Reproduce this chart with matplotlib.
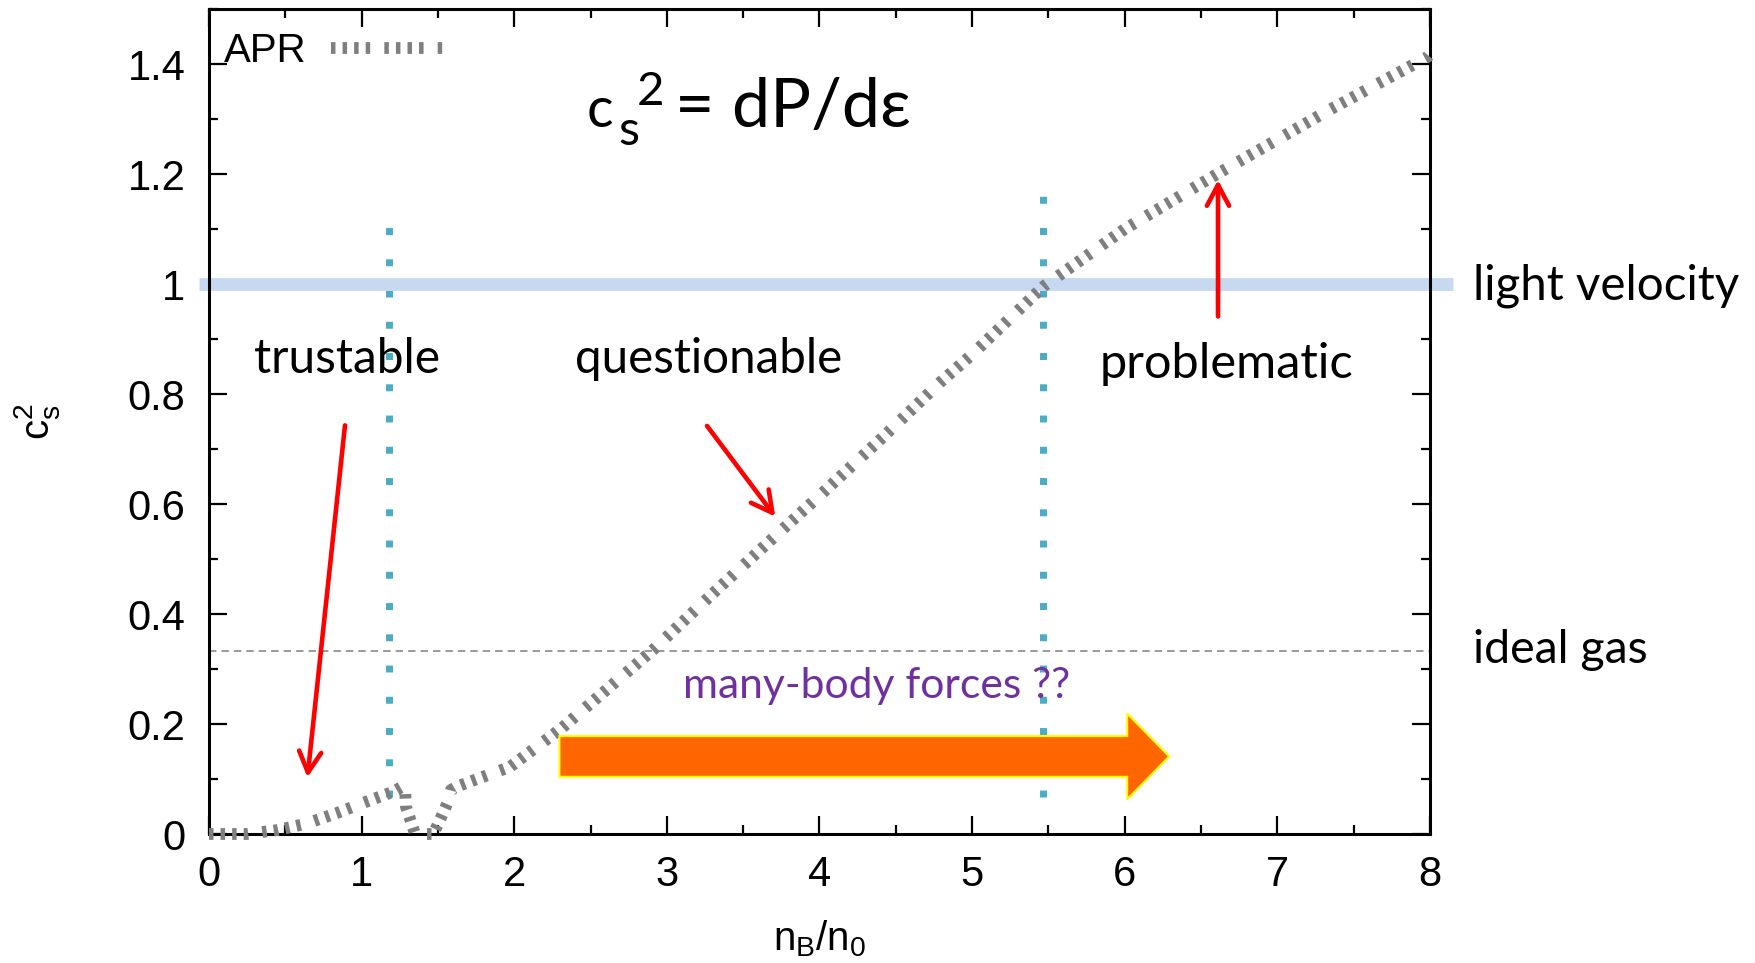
import matplotlib
matplotlib.use("Agg")
import matplotlib.pyplot as plt
from matplotlib.patches import FancyArrow
from matplotlib.ticker import MultipleLocator

# APR speed of sound squared
nb = [0.0, 0.247, 0.444, 0.640, 0.837, 1.033, 1.208, 1.284, 1.29, 1.35, 1.47,
      1.52, 1.56, 1.585, 1.623, 1.776, 1.972, 2.309, 2.910, 3.30, 3.715,
      4.0, 4.417, 4.794, 5.0, 5.465, 6.0, 6.611, 7.337, 7.985, 8.0]
cs2 = [0.0, 0.0, 0.007, 0.019, 0.038, 0.059, 0.077, 0.089, 0.05, 0.0, 0.0,
       0.03, 0.055, 0.08, 0.086, 0.102, 0.122, 0.192, 0.335, 0.437, 0.543,
       0.615, 0.722, 0.822, 0.872, 0.995, 1.10, 1.201, 1.316, 1.413, 1.418]

xticks = [0, 1, 2, 3, 4, 5, 6, 7, 8]
xticklabels = ["0", "1", "2", "3", "4", "5", "6", "7", "8"]
yticks = [0, 0.2, 0.4, 0.6, 0.8, 1.0, 1.2, 1.4]
yticklabels = ["0", "0.2", "0.4", "0.6", "0.8", "1", "1.2", "1.4"]

ideal_gas = 1.0 / 3.0
light_velocity = 1.0
# region borders (cyan dotted lines): x, top
border_x = [1.177, 5.465]
border_top = [1.129, 1.173]
border_bottom = 0.067

W, H = 1756, 963
plt.rcParams["font.family"] = ["Liberation Sans", "DejaVu Sans"]
ANN = ["Lato", "DejaVu Sans"]

fig = plt.figure(figsize=(W / 100, H / 100), dpi=100)
ax = fig.add_axes([209 / W, 1 - 834 / H, 1221 / W, 825 / H])

dash = (0, (0.38, 0.6, 0.38, 0.6, 0.38, 0.6, 0.38, 1.2))

# cyan borders, light velocity band, ideal gas line
for x, top in zip(border_x, border_top):
    ax.plot([x, x], [border_bottom, top], color="#4bacc6", lw=5,
            linestyle=(0, (1, 3.5)), zorder=2)
ax.plot([0, 8], [ideal_gas, ideal_gas], color="#9a9a9a", lw=1.4,
        linestyle=(0, (3.8, 2.6)), zorder=2.2)
ax.plot([-0.066, 8.151], [light_velocity, light_velocity], color="#c6d9f0",
        lw=9.2, solid_capstyle="butt", clip_on=False, zorder=2.5)

ax.plot(nb, cs2, color="#7f7f7f", lw=8.5, linestyle=dash, label="APR",
        clip_on=False, zorder=3)

# red arrows
arrows = [((0.891, 0.743), (0.645, 0.103)),
          ((3.263, 0.742), (3.71, 0.577)),
          ((6.611, 0.941), (6.611, 1.189))]
for tail, tip in arrows:
    ax.annotate("", xy=tip, xytext=tail,
                arrowprops=dict(arrowstyle="->,head_length=15,head_width=8",
                                mutation_scale=1, lw=3.3, color="red",
                                shrinkA=0, shrinkB=0), zorder=5)

# orange block arrow
ax.add_patch(FancyArrow(2.296, 0.141, 3.995, 0, width=0.074, head_width=0.156,
                        head_length=0.275, length_includes_head=True,
                        fc="#ff6600", ec="#ffff00", lw=1.5, zorder=6))

ax.set_xlim(0, 8)
ax.set_ylim(0, 1.5)
ax.set_xticks(xticks)
ax.set_xticklabels(xticklabels)
ax.set_yticks(yticks)
ax.set_yticklabels(yticklabels)
ax.xaxis.set_minor_locator(MultipleLocator(0.5))
ax.yaxis.set_minor_locator(MultipleLocator(0.1))
ax.tick_params(which="both", direction="in", top=True, right=True,
               width=1.6, labelsize=30)
ax.tick_params(which="major", length=13)
ax.tick_params(which="minor", length=6.5)
ax.tick_params(axis="x", pad=15)
ax.tick_params(axis="y", pad=17)
for s in ax.spines.values():
    s.set_linewidth(2.2)

ax.set_xlabel(r"n$_\mathregular{B}$/n$_\mathregular{0}$", fontsize=29)
ax.xaxis.set_label_coords(0.5, -0.102)
ax.set_ylabel(r"$\mathregular{c_s^2}$", fontsize=29)
ax.yaxis.set_label_coords(-0.12, 0.5)

ax.legend(loc="upper left", bbox_to_anchor=(15 / 1221, 1 - 23 / 825),
          frameon=False, markerfirst=False, fontsize=29, handlelength=2.83,
          handletextpad=0.6, borderaxespad=0.0, borderpad=0.0)

# annotation texts (x, baseline y, text, target width px)
fig.canvas.draw()
r = fig.canvas.get_renderer()


def fit(t, width):
    t.set_fontsize(t.get_fontsize() * width / t.get_window_extent(r).width)


labels = [(0.904, 0.838, "trustable", 186, "center", "black"),
          (3.273, 0.838, "questionable", 267, "center", "black"),
          (6.665, 0.829, "problematic", 254, "center", "black"),
          (8.283, 0.971, "light velocity", 266, "left", "black"),
          (8.283, 0.311, "ideal gas", 175, "left", "black"),
          (4.371, 0.247, "many-body forces ??", 388, "center", "#7030a0")]
for x, y, s, w, ha, c in labels:
    t = ax.text(x, y, s, ha=ha, va="baseline", family=ANN, fontsize=30,
                color=c, zorder=7)
    fit(t, w)

# formula c_s^2 = dP/dε
fig.text(587 / W, 1 - 127 / H, "c", family=ANN, fontsize=40, va="baseline")
fig.text(618 / W, 1 - 145 / H, "s", family=ANN, fontsize=35, va="baseline")
fig.text(637 / W, 1 - 105 / H, "2", family=ANN, fontsize=34, va="baseline")
t = fig.text(675 / W, 1 - 127 / H, "= dP/dε", family=ANN, fontsize=40,
             va="baseline")
fit(t, 236)

fig.savefig("out.png", dpi=100)
